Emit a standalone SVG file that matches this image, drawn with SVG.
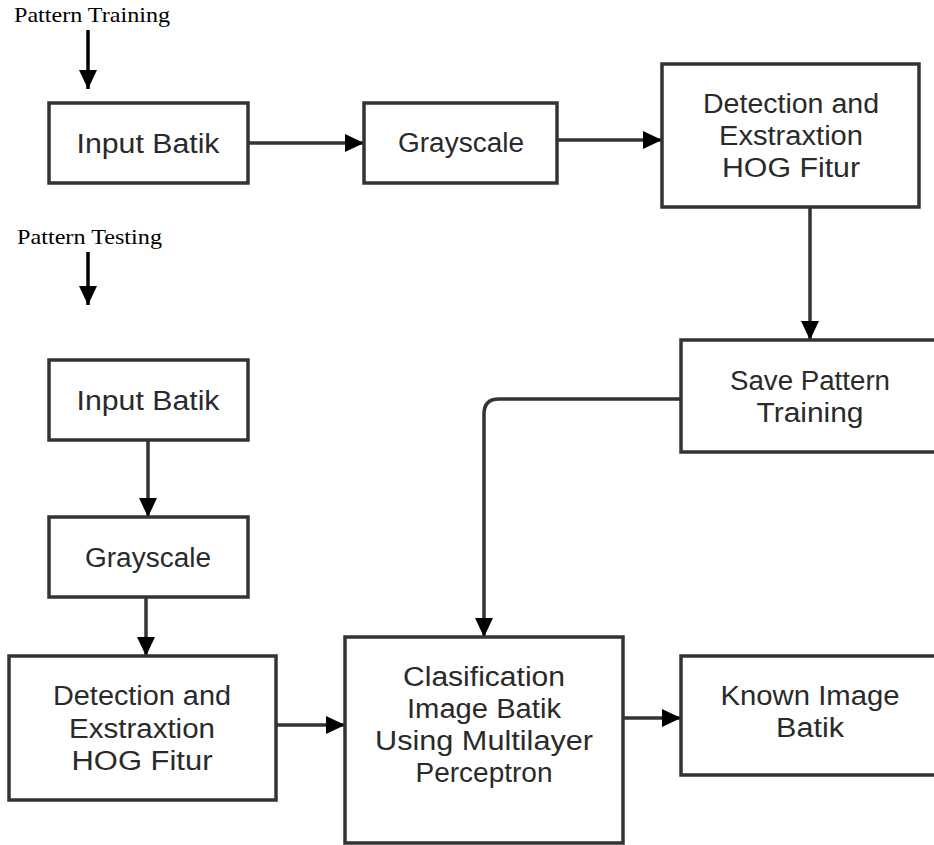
<svg xmlns="http://www.w3.org/2000/svg" width="934" height="845" viewBox="0 0 934 845">
<style>
.box{fill:#fff;stroke:#333;stroke-width:3.5}
.t{font-family:"Liberation Sans","DejaVu Sans",sans-serif;font-size:27px;fill:#2a2a2a;text-anchor:middle}
.lab{font-family:"Liberation Serif","Times New Roman",serif;font-size:22px;fill:#000}
.c{fill:none;stroke:#333;stroke-width:3.5}
.p{fill:none;stroke:#000;stroke-width:3.5}
</style>
<defs>
<marker id="ah" markerUnits="userSpaceOnUse" markerWidth="22" markerHeight="20" refX="19" refY="9" orient="auto">
<path d="M0,0 L19,9 L0,18 Z" fill="#000"/>
</marker>
<marker id="ap" markerUnits="userSpaceOnUse" markerWidth="22" markerHeight="20" refX="19" refY="9" orient="auto">
<path d="M0,0 L19,9 L0,18 Z" fill="#000"/>
</marker>
</defs>
<rect width="934" height="845" fill="#fff"/>
<text class="lab" x="14" y="22" textLength="156" lengthAdjust="spacingAndGlyphs">Pattern Training</text>
<text class="lab" x="17" y="244" textLength="145" lengthAdjust="spacingAndGlyphs">Pattern Testing</text>
<g id="connectors">
<path class="p" d="M88,30 V89" marker-end="url(#ap)"/>
<path class="p" d="M88,252 V305" marker-end="url(#ap)"/>
<path class="c" d="M248,143 H364" marker-end="url(#ah)"/>
<path class="c" d="M557,140 H662" marker-end="url(#ah)"/>
<path class="c" d="M810,207 V340" marker-end="url(#ah)"/>
<path class="c" d="M681,399 H499 Q484,399 484,414 V637" marker-end="url(#ah)"/>
<path class="c" d="M148,440 V517" marker-end="url(#ah)"/>
<path class="c" d="M146,597 V656" marker-end="url(#ah)"/>
<path class="c" d="M276,725 H345" marker-end="url(#ah)"/>
<path class="c" d="M623,718 H681" marker-end="url(#ah)"/>
</g>
<g id="train-input">
<rect class="box" x="49" y="103" width="199" height="80"/>
<text class="t" x="148" y="153" textLength="143" lengthAdjust="spacingAndGlyphs">Input Batik</text>
</g>
<g id="train-gray">
<rect class="box" x="364" y="103" width="193" height="80"/>
<text class="t" x="461" y="152" textLength="126" lengthAdjust="spacingAndGlyphs">Grayscale</text>
</g>
<g id="train-hog">
<rect class="box" x="662" y="64" width="257" height="143"/>
<text class="t" x="791" y="113" textLength="176" lengthAdjust="spacingAndGlyphs">Detection and</text>
<text class="t" x="791" y="145" textLength="144" lengthAdjust="spacingAndGlyphs">Exstraxtion</text>
<text class="t" x="791" y="177" textLength="138" lengthAdjust="spacingAndGlyphs">HOG Fitur</text>
</g>
<g id="save">
<rect class="box" x="681" y="340" width="260" height="112"/>
<text class="t" x="810" y="390" textLength="160" lengthAdjust="spacingAndGlyphs">Save Pattern</text>
<text class="t" x="810" y="422" textLength="107" lengthAdjust="spacingAndGlyphs">Training</text>
</g>
<g id="test-input">
<rect class="box" x="49" y="360" width="199" height="80"/>
<text class="t" x="148" y="410" textLength="143" lengthAdjust="spacingAndGlyphs">Input Batik</text>
</g>
<g id="test-gray">
<rect class="box" x="49" y="517" width="199" height="80"/>
<text class="t" x="148" y="567" textLength="126" lengthAdjust="spacingAndGlyphs">Grayscale</text>
</g>
<g id="test-hog">
<rect class="box" x="9" y="656" width="267" height="144"/>
<text class="t" x="142" y="705" textLength="178" lengthAdjust="spacingAndGlyphs">Detection and</text>
<text class="t" x="142" y="738" textLength="146" lengthAdjust="spacingAndGlyphs">Exstraxtion</text>
<text class="t" x="142" y="770" textLength="141" lengthAdjust="spacingAndGlyphs">HOG Fitur</text>
</g>
<g id="classify">
<rect class="box" x="345" y="637" width="278" height="206"/>
<text class="t" x="484" y="686" textLength="162" lengthAdjust="spacingAndGlyphs">Clasification</text>
<text class="t" x="484" y="718" textLength="154" lengthAdjust="spacingAndGlyphs">Image Batik</text>
<text class="t" x="484" y="750" textLength="218" lengthAdjust="spacingAndGlyphs">Using Multilayer</text>
<text class="t" x="484" y="782" textLength="137" lengthAdjust="spacingAndGlyphs">Perceptron</text>
</g>
<g id="known">
<rect class="box" x="681" y="656" width="260" height="119"/>
<text class="t" x="810" y="705" textLength="179" lengthAdjust="spacingAndGlyphs">Known Image</text>
<text class="t" x="810" y="737" textLength="68" lengthAdjust="spacingAndGlyphs">Batik</text>
</g>
</svg>
